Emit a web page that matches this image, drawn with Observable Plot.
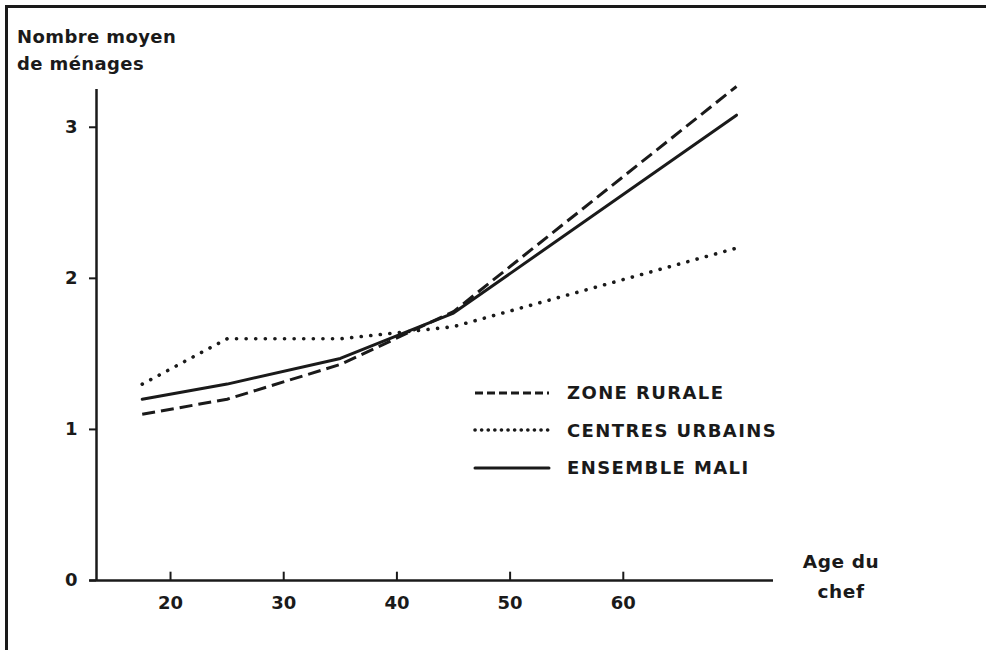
<!DOCTYPE html>
<html>
<head>
<meta charset="utf-8">
<script src="https://cdn.jsdelivr.net/npm/d3@7"></script>
<script src="https://cdn.jsdelivr.net/npm/@observablehq/plot@0.6"></script>
<style>
  html, body { margin: 0; padding: 0; background: #fff; }
  #wrap { position: relative; width: 986px; height: 650px; overflow: hidden; font-family: "DejaVu Sans", sans-serif; color: #1a1a1a; }
  #frame { position: absolute; left: 5px; top: 5px; width: 1000px; height: 700px; border-left: 3px solid #1a1a1a; border-top: 3px solid #1a1a1a; }
  #ytitle { position: absolute; left: 17px; top: 23px; font-size: 18px; line-height: 27px; font-weight: bold; letter-spacing: 0.4px; }
  #xtitle { position: absolute; left: 793px; top: 547px; font-size: 18.5px; line-height: 30px; font-weight: bold; text-align: center; width: 96px; letter-spacing: 0.6px; }
  #legend { position: absolute; left: 473px; top: 374px; }
  .row { display: flex; align-items: center; height: 37.5px; }
  .row svg { width: 78px; height: 10px; margin-right: 16px; }
  .row span { font-size: 18px; letter-spacing: 1.4px; font-weight: bold; }
  #chart { position: absolute; left: 0; top: 0; }
</style>
</head>
<body>
<div id="wrap">
  <div id="chart"></div>
  <div id="frame"></div>
  <div id="ytitle">Nombre moyen<br>de ménages</div>
  <div id="xtitle">Age du<br>chef</div>
  <div id="legend"></div>
</div>
<script>
// Data
const ages = [17.5, 25, 35, 45, 70];
const zoneRurale = [1.1, 1.2, 1.43, 1.78, 3.27];
const centresUrbains = [1.3, 1.6, 1.6, 1.68, 2.2];
const ensembleMali = [1.2, 1.3, 1.47, 1.77, 3.08];
const xTicks = [20, 30, 40, 50, 60];
const yTicks = [0, 1, 2, 3];
const seriesNames = ["ZONE RURALE", "CENTRES URBAINS", "ENSEMBLE MALI"];

const ink = "#1a1a1a";
const styles = {
  "ZONE RURALE": {strokeDasharray: "13 6", strokeWidth: 3, strokeLinecap: "butt", legendDash: "8 4"},
  "CENTRES URBAINS": {strokeDasharray: "0.1 9.5", strokeWidth: 3.6, strokeLinecap: "round", legendDash: "0.1 6.5"},
  "ENSEMBLE MALI": {strokeDasharray: null, strokeWidth: 3, strokeLinecap: "round", legendDash: null}
};
const seriesValues = [zoneRurale, centresUrbains, ensembleMali];
const rows = [];
seriesNames.forEach((name, i) => ages.forEach((a, j) => rows.push({serie: name, age: a, value: seriesValues[i][j]})));

const xDomain = [13.46, 73.27];
const yDomain = [0, 3.25];

const lineMarks = seriesNames.map(name => Plot.line(rows.filter(d => d.serie === name), {
  x: "age", y: "value", stroke: ink, strokeWidth: styles[name].strokeWidth,
  strokeDasharray: styles[name].strokeDasharray, strokeLinecap: styles[name].strokeLinecap,
  strokeLinejoin: "round"
}));

const chart = Plot.plot({
  width: 986,
  height: 650,
  marginLeft: 96,
  marginRight: 213,
  marginTop: 89,
  marginBottom: 70,
  style: {fontFamily: "DejaVu Sans, sans-serif", fontSize: "18px", color: ink, background: "transparent"},
  x: {domain: xDomain},
  y: {domain: yDomain},
  marks: [
    Plot.ruleY([0], {x1: xDomain[0] - 0.6, x2: xDomain[1], stroke: ink, strokeWidth: 2.5}),
    Plot.ruleX([xDomain[0]], {y1: yDomain[0], y2: yDomain[1], stroke: ink, strokeWidth: 2.5}),
    Plot.ruleX(xTicks, {y1: 0, y2: 0.055, stroke: ink, strokeWidth: 2}),
    Plot.axisX(xTicks, {tickSize: 0, tickPadding: 16, fontSize: 18, fontWeight: "bold", label: null, tickFormat: d => String(d)}),
    Plot.axisY(yTicks, {tickSize: 7, tickPadding: 12, fontSize: 18, fontWeight: "bold", label: null, strokeWidth: 2, tickFormat: d => String(d)}),
    ...lineMarks
  ]
});
document.getElementById("chart").append(chart);

// Legend
const legend = document.getElementById("legend");
seriesNames.forEach(name => {
  const s = styles[name];
  const row = document.createElement("div");
  row.className = "row";
  row.innerHTML = `<svg viewBox="0 0 78 10"><line x1="2" y1="5" x2="76" y2="5" stroke="${ink}" stroke-width="${s.strokeWidth}" ${s.legendDash ? `stroke-dasharray="${s.legendDash}"` : ""} stroke-linecap="${s.strokeLinecap}"/></svg><span>${name}</span>`;
  legend.append(row);
});
</script>
</body>
</html>
